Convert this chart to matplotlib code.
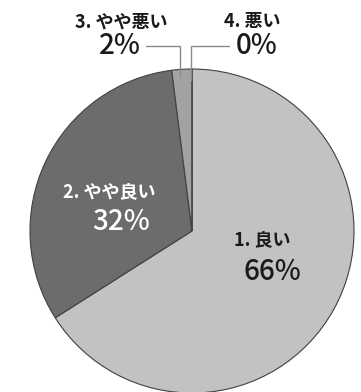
import matplotlib
matplotlib.use("Agg")
import matplotlib.pyplot as plt
import numpy as np

plt.rcParams['font.family'] = ['Noto Sans CJK JP', 'DejaVu Sans']

categories = ["1. 良い", "2. やや良い", "3. やや悪い", "4. 悪い"]
values = [66, 32, 2, 0]
colors = ["#c2c2c2", "#6c6c6c", "#a2a2a2", "#d8d8d8"]

fig = plt.figure(figsize=(3.61, 3.92), dpi=100)
fig.patch.set_facecolor("white")
W, H = 361, 392
cx, cy, r = 192, 231, 162
ax = fig.add_axes([(cx - r) / W, 1 - (cy + r) / H, 2 * r / W, 2 * r / H])

wedges, _ = ax.pie(values, colors=colors, startangle=90, counterclock=False,
                   radius=1, wedgeprops=dict(edgecolor="#404040", linewidth=0.8))
ax.set_xlim(-1, 1)
ax.set_ylim(-1, 1)
ax.set_aspect("equal")
ax.axis("off")


def fig_xy(px, py):
    return px / W, 1 - py / H


LABEL_SIZE = 13
VALUE_SIZE = 20

# in-slice labels
inside = {0: ((262, 240), (272, 271), "#1a1a1a"),
          1: ((109, 192), (121, 222), "white")}
for i, ((lx, ly), (vx, vy), col) in inside.items():
    fig.text(*fig_xy(lx, ly), categories[i], ha="center", va="center",
             fontsize=LABEL_SIZE, fontweight="bold", color=col)
    fig.text(*fig_xy(vx, vy), f"{values[i]}%", ha="center", va="center",
             fontsize=VALUE_SIZE, fontweight="medium", color=col)

# outside labels with leader lines
outside = {2: ((121, 22), (120, 45), [(146, 46), (180, 46), (180, 76)]),
           3: ((252, 22), (257, 45), [(229, 46), (191, 46), (191, 80)])}
for i, ((lx, ly), (vx, vy), pts) in outside.items():
    fig.text(*fig_xy(lx, ly), categories[i], ha="center", va="center",
             fontsize=LABEL_SIZE, fontweight="bold", color="#1a1a1a")
    fig.text(*fig_xy(vx, vy), f"{values[i]}%", ha="center", va="center",
             fontsize=VALUE_SIZE, fontweight="medium", color="#1a1a1a")
    xs = [fig_xy(p[0], p[1])[0] for p in pts]
    ys = [fig_xy(p[0], p[1])[1] for p in pts]
    fig.add_artist(plt.Line2D(xs, ys, color="#8a8a8a", linewidth=1.0,
                              transform=fig.transFigure))

fig.savefig("out.png", dpi=100, facecolor="white")
